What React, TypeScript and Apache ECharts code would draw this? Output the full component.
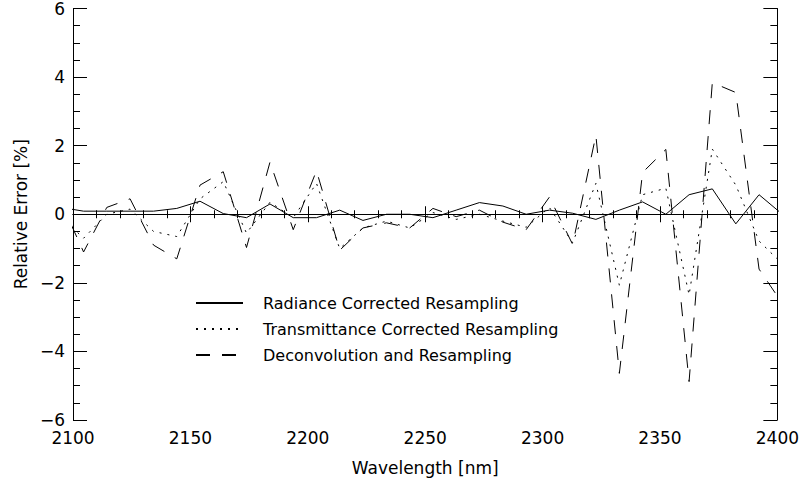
import React, { useEffect, useRef } from "react";
import * as echarts from "echarts";

const wavelengths = [
  2094.6, 2104.5, 2114.4, 2124.3, 2134.3, 2144.2, 2154.1, 2164.0, 2173.9, 2183.9,
  2193.8, 2203.7, 2213.6, 2223.5, 2233.5, 2243.4, 2253.3, 2263.2, 2273.1, 2283.1,
  2293.0, 2302.9, 2312.8, 2322.7, 2332.7, 2342.6, 2352.5, 2362.4, 2372.3, 2382.3,
  2392.2, 2402.1,
];

const radianceCorrected = [
  0.2, 0.09, 0.09, 0.09, 0.09, 0.17, 0.38, 0.02, -0.1, 0.3,
  -0.1, -0.1, 0.12, -0.18, 0.0, 0.0, -0.1, 0.12, 0.34, 0.24,
  0.0, 0.12, 0.03, -0.15, 0.12, 0.36, 0.0, 0.57, 0.74, -0.28,
  0.57, 0.0,
];

const transmittanceCorrected = [
  -0.05, -0.7, 0.0, 0.15, -0.5, -0.65, 0.45, 0.95, -0.55, 0.35,
  -0.1, 0.9, -1.0, -0.4, -0.2, -0.4, 0.05, -0.15, 0.0, -0.2,
  -0.38, 0.2, -0.83, 0.9, -2.07, 0.57, 0.76, -2.35, 1.9, 0.85,
  -0.78, -1.45,
];

const deconvolution = [
  0.4, -1.1, 0.2, 0.45, -0.9, -1.3, 0.85, 1.24, -0.97, 1.52,
  -0.45, 1.27, -1.05, -0.4, -0.25, -0.4, 0.17, -0.07, 0.12, -0.23,
  -0.45, 0.5, -0.88, 2.3, -4.64, 1.22, 1.89, -4.88, 3.84, 3.55,
  -1.6, -2.6,
];

const seriesNames = [
  "Radiance Corrected Resampling",
  "Transmittance Corrected Resampling",
  "Deconvolution and Resampling",
];

const FONT = "DejaVu Sans";

function pairs(ys: number[]) {
  return wavelengths.map((x, i) => [x, ys[i]]);
}

export default function App() {
  const ref = useRef<HTMLDivElement>(null);
  useEffect(() => {
    if (!ref.current) return;
    const chart = echarts.init(ref.current, undefined, { renderer: "svg" });
    const axisLine = { show: true, lineStyle: { color: "#000", width: 1 } };
    const xCommon = {
      type: "value" as const,
      min: 2100,
      max: 2400,
      interval: 50,
      axisLine,
      axisTick: { show: true, inside: true, length: 8, lineStyle: { color: "#000" } },
      minorTick: { show: true, splitNumber: 5, length: 4, lineStyle: { color: "#000" } },
      splitLine: { show: false },
    };
    const yCommon = {
      type: "value" as const,
      min: -6,
      max: 6,
      interval: 2,
      axisLine,
      axisTick: { show: true, inside: true, length: 14, lineStyle: { color: "#000" } },
      minorTick: { show: true, splitNumber: 4, length: 7, lineStyle: { color: "#000" } },
      splitLine: { show: false },
    };
    chart.setOption({
      animation: false,
      backgroundColor: "#fff",
      textStyle: { fontFamily: FONT },
      grid: { left: 73, right: 24, top: 6, bottom: 55, containLabel: false },
      legend: {
        orient: "vertical",
        left: 190,
        top: 290,
        itemWidth: 47,
        itemHeight: 14,
        itemGap: 10,
        data: seriesNames,
        itemStyle: { color: "transparent", borderWidth: 0, opacity: 0 },
        textStyle: { fontFamily: FONT, fontSize: 16, color: "#000", padding: [0, 0, 0, 15] },
      },
      xAxis: [
        {
          ...xCommon,
          position: "bottom",
          name: "Wavelength [nm]",
          nameLocation: "middle",
          nameGap: 39,
          nameTextStyle: { fontFamily: FONT, fontSize: 17, color: "#000" },
          axisLabel: {
            show: true,
            margin: 9,
            fontFamily: FONT,
            fontSize: 17,
            color: "#000",
            formatter: (v: number) => String(v),
          },
        },
        { ...xCommon, position: "top", axisLabel: { show: false } },
      ],
      yAxis: [
        {
          ...yCommon,
          position: "left",
          name: "Relative Error [%]",
          nameLocation: "middle",
          nameGap: 42,
          nameTextStyle: { fontFamily: FONT, fontSize: 17, color: "#000" },
          axisLabel: {
            show: true,
            margin: 8,
            fontFamily: FONT,
            fontSize: 17,
            color: "#000",
            formatter: (v: number) => String(v).replace("-", "\u2212"),
          },
        },
        { ...yCommon, position: "right", axisLabel: { show: false } },
      ],
      series: [
        {
          name: seriesNames[0],
          type: "line",
          data: pairs(radianceCorrected),
          symbol: "none",
          lineStyle: { color: "#000", width: 1, type: "solid" },
          itemStyle: { color: "#000" },
          markLine: {
            silent: true,
            symbol: "none",
            label: { show: false },
            lineStyle: { color: "#000", width: 1.2, type: "solid" },
            data: [{ yAxis: 0 }],
          },
        },
        {
          name: seriesNames[1],
          type: "line",
          data: pairs(transmittanceCorrected),
          symbol: "none",
          lineStyle: { color: "#000", width: 1, type: [2, 6] },
          itemStyle: { color: "#000" },
        },
        {
          name: seriesNames[2],
          type: "line",
          data: pairs(deconvolution),
          symbol: "none",
          lineStyle: { color: "#000", width: 1, type: [14, 12] },
          itemStyle: { color: "#000" },
        },
      ],
    });
    return () => chart.dispose();
  }, []);
  return (
    <div
      ref={ref}
      style={{ position: "fixed", left: 0, top: 0, width: 802, height: 481, background: "#fff" }}
    />
  );
}
